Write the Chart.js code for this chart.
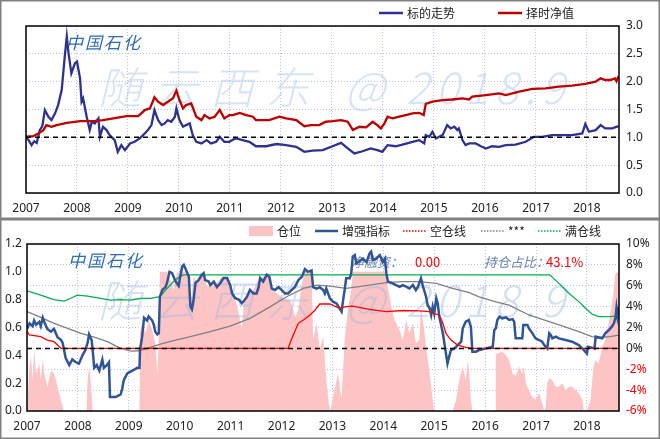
<!DOCTYPE html>
<html>
<head>
<meta charset="utf-8">
<script src="https://cdn.jsdelivr.net/npm/chart.js@4.4.1/dist/chart.umd.min.js"></script>
<style>
  html, body { margin: 0; padding: 0; background: #fff; }
  #wrap { position: relative; width: 660px; height: 439px; overflow: hidden; }
  canvas { position: absolute; left: 0; }
  #c1 { top: 0; }
  #c2 { top: 219px; }
</style>
</head>
<body>
<div id="wrap">
  <canvas id="c1" width="660" height="219"></canvas>
  <canvas id="c2" width="660" height="220"></canvas>
</div>
<script>
// x range (years)
const xStart = 2007, xEnd = 2018.63;

const topLegend = ['标的走势', '择时净值'];
const bottomLegend = ['仓位', '增强指标', '空仓线', '***', '满仓线'];
const stockName = '中国石化';
const markParts = ['随云西东', '@', '2018.9'];

// top panel: underlying trend
const trendPts = [[2007.00,1.01],[2007.05,0.95],[2007.11,0.86],[2007.16,0.93],[2007.21,0.90],[2007.27,1.13],[2007.32,1.20],[2007.37,1.49],[2007.44,1.37],[2007.50,1.31],[2007.57,1.43],[2007.63,1.58],[2007.70,1.85],[2007.76,2.45],[2007.80,2.81],[2007.83,2.54],[2007.89,2.15],[2007.96,2.33],[2008.00,2.36],[2008.06,2.06],[2008.09,1.64],[2008.12,1.70],[2008.19,1.37],[2008.25,1.13],[2008.29,1.28],[2008.35,1.25],[2008.42,1.34],[2008.45,1.01],[2008.51,1.19],[2008.58,1.13],[2008.64,1.04],[2008.74,0.95],[2008.80,0.74],[2008.87,0.86],[2008.94,0.77],[2009.04,0.89],[2009.13,0.92],[2009.23,0.98],[2009.33,1.07],[2009.39,1.13],[2009.46,1.22],[2009.52,1.49],[2009.59,1.31],[2009.66,1.22],[2009.72,1.25],[2009.78,1.31],[2009.85,1.28],[2009.92,1.37],[2009.95,1.52],[2010.01,1.31],[2010.08,1.19],[2010.14,1.22],[2010.21,1.25],[2010.27,1.04],[2010.34,0.92],[2010.44,0.89],[2010.54,0.95],[2010.63,0.89],[2010.73,0.92],[2010.80,1.01],[2010.89,0.92],[2010.99,0.92],[2011.06,0.96],[2011.12,0.98],[2011.25,0.95],[2011.38,0.92],[2011.51,0.84],[2011.71,0.84],[2011.91,0.88],[2012.10,0.86],[2012.30,0.83],[2012.46,0.74],[2012.62,0.76],[2012.82,0.77],[2013.01,0.84],[2013.18,0.90],[2013.31,0.80],[2013.44,0.71],[2013.60,0.75],[2013.76,0.80],[2013.89,0.77],[2013.99,0.74],[2014.09,0.86],[2014.25,0.84],[2014.42,0.88],[2014.58,0.92],[2014.71,0.95],[2014.81,0.89],[2014.84,1.04],[2014.91,1.01],[2014.97,1.10],[2015.04,0.98],[2015.10,1.01],[2015.17,1.04],[2015.26,1.22],[2015.33,1.16],[2015.40,1.19],[2015.46,1.13],[2015.49,1.16],[2015.56,0.95],[2015.62,0.86],[2015.69,0.89],[2015.82,0.89],[2015.92,0.84],[2016.02,0.80],[2016.14,0.84],[2016.28,0.83],[2016.41,0.86],[2016.60,0.87],[2016.80,0.92],[2016.96,1.01],[2017.12,1.01],[2017.32,1.04],[2017.51,1.04],[2017.71,1.04],[2017.91,1.07],[2017.97,1.24],[2018.04,1.10],[2018.17,1.13],[2018.27,1.22],[2018.36,1.16],[2018.50,1.16],[2018.62,1.20]];

// top panel: timing net value
const navPts = [[2007.00,1.01],[2007.14,1.02],[2007.24,1.07],[2007.34,1.13],[2007.40,1.22],[2007.50,1.19],[2007.60,1.22],[2007.80,1.26],[2008.06,1.29],[2008.32,1.29],[2008.51,1.31],[2008.77,1.35],[2008.97,1.38],[2009.20,1.38],[2009.26,1.43],[2009.33,1.49],[2009.43,1.52],[2009.52,1.72],[2009.59,1.64],[2009.69,1.58],[2009.78,1.64],[2009.88,1.70],[2009.95,1.84],[2010.01,1.67],[2010.08,1.52],[2010.14,1.58],[2010.24,1.61],[2010.34,1.37],[2010.44,1.31],[2010.50,1.40],[2010.60,1.34],[2010.70,1.37],[2010.80,1.49],[2010.89,1.34],[2010.99,1.40],[2011.06,1.40],[2011.19,1.44],[2011.32,1.40],[2011.45,1.37],[2011.51,1.31],[2011.77,1.31],[2011.97,1.37],[2012.10,1.34],[2012.30,1.31],[2012.46,1.20],[2012.59,1.22],[2012.75,1.22],[2012.88,1.28],[2013.01,1.29],[2013.18,1.31],[2013.31,1.28],[2013.41,1.13],[2013.54,1.19],[2013.67,1.18],[2013.80,1.28],[2013.89,1.22],[2013.96,1.16],[2014.03,1.25],[2014.09,1.37],[2014.19,1.34],[2014.32,1.37],[2014.45,1.40],[2014.58,1.43],[2014.71,1.44],[2014.80,1.40],[2014.84,1.60],[2014.97,1.64],[2015.17,1.67],[2015.36,1.68],[2015.56,1.70],[2015.69,1.68],[2015.75,1.73],[2016.02,1.76],[2016.28,1.79],[2016.41,1.76],[2016.67,1.82],[2016.93,1.87],[2017.19,1.88],[2017.45,1.91],[2017.71,1.93],[2017.97,1.96],[2018.17,2.00],[2018.27,2.06],[2018.36,2.03],[2018.46,2.03],[2018.55,2.06],[2018.58,2.01],[2018.62,2.10]];

// bottom panel: position (0..1)
const posPts = [[2007.00,0],[2007.05,0.32],[2007.08,0.39],[2007.11,0.22],[2007.14,0.44],[2007.18,0.27],[2007.24,0.34],[2007.27,0.22],[2007.31,0.37],[2007.34,0.27],[2007.40,0.17],[2007.47,0.29],[2007.53,0.27],[2007.57,0.22],[2007.63,0.13],[2007.70,0.03],[2007.72,0],[2008.17,0],[2008.19,0.22],[2008.22,0.32],[2008.25,0.22],[2008.29,0],[2009.21,0],[2009.22,0.56],[2009.26,0.63],[2009.33,0.56],[2009.39,0.65],[2009.46,0.58],[2009.52,0.49],[2009.56,0.27],[2009.59,0.51],[2009.61,1.0],[2009.75,1.0],[2009.82,0.94],[2009.88,0.87],[2009.95,1.0],[2010.01,0.99],[2010.03,0.93],[2010.05,1.0],[2010.18,0.99],[2010.21,0.71],[2010.27,0.965],[2010.34,0.92],[2010.41,1.0],[2010.47,0.965],[2010.54,0.89],[2010.63,0.92],[2010.73,0.92],[2010.83,0.965],[2010.93,0.95],[2011.03,0.845],[2011.12,0.77],[2011.22,0.594],[2011.26,0.77],[2011.35,0.83],[2011.45,0.87],[2011.55,0.95],[2011.64,0.965],[2011.74,0.977],[2011.81,0.869],[2011.91,0.845],[2012.04,0.81],[2012.17,0.797],[2012.27,0.678],[2012.33,0.726],[2012.40,0.917],[2012.46,1.0],[2012.59,1.0],[2012.62,0.51],[2012.69,0.63],[2012.75,0.44],[2012.82,0.534],[2012.88,0.22],[2012.93,0.05],[2012.96,0],[2013.01,0.1],[2013.11,0.27],[2013.18,0.08],[2013.24,0.51],[2013.31,0.75],[2013.37,0.87],[2013.40,1.0],[2014.06,1.0],[2014.09,0.89],[2014.16,0.75],[2014.22,0.654],[2014.32,0.58],[2014.38,0.51],[2014.45,0.654],[2014.51,0.558],[2014.58,0.63],[2014.64,0.486],[2014.71,0.51],[2014.74,0.75],[2014.81,0.558],[2014.84,0.462],[2014.91,0.27],[2014.97,0.08],[2015.00,0],[2015.36,0],[2015.43,0.08],[2015.49,0.22],[2015.56,0.32],[2015.62,0.22],[2015.66,0.366],[2015.69,0.27],[2015.72,0.08],[2015.75,0],[2016.20,0],[2016.21,0.41],[2016.34,0.426],[2016.41,0.40],[2016.47,0.366],[2016.54,0.27],[2016.60,0.25],[2016.67,0.32],[2016.73,0.27],[2016.76,0.32],[2016.80,0.2],[2016.86,0.15],[2016.93,0.10],[2016.99,0.08],[2017.06,0.13],[2017.12,0.06],[2017.16,0],[2017.19,0.03],[2017.22,0.2],[2017.26,0.235],[2017.32,0.22],[2017.39,0.175],[2017.45,0.175],[2017.52,0.2],[2017.58,0.15],[2017.65,0.175],[2017.71,0.175],[2017.78,0.15],[2017.84,0.13],[2017.91,0.08],[2017.94,0],[2018.00,0],[2018.07,0.08],[2018.13,0.32],[2018.17,0.366],[2018.23,0.34],[2018.30,0.462],[2018.36,0.51],[2018.43,0.63],[2018.49,0.77],[2018.52,0.85],[2018.56,0.99],[2018.63,1.0]];

// bottom panel: enhanced indicator
const indexPts = [[2007.00,0.59],[2007.05,0.63],[2007.11,0.61],[2007.14,0.65],[2007.18,0.62],[2007.24,0.64],[2007.27,0.61],[2007.31,0.67],[2007.34,0.64],[2007.40,0.59],[2007.47,0.57],[2007.53,0.59],[2007.60,0.53],[2007.67,0.51],[2007.70,0.49],[2007.76,0.38],[2007.83,0.33],[2007.89,0.37],[2007.96,0.35],[2008.02,0.34],[2008.09,0.40],[2008.15,0.44],[2008.19,0.49],[2008.22,0.55],[2008.27,0.51],[2008.29,0.44],[2008.32,0.31],[2008.37,0.33],[2008.42,0.29],[2008.48,0.37],[2008.51,0.31],[2008.57,0.33],[2008.61,0.35],[2008.63,0.10],[2008.74,0.10],[2008.84,0.12],[2008.87,0.16],[2008.90,0.22],[2008.97,0.27],[2009.07,0.29],[2009.17,0.31],[2009.21,0.31],[2009.22,0.44],[2009.26,0.53],[2009.30,0.67],[2009.36,0.65],[2009.39,0.68],[2009.46,0.65],[2009.49,0.62],[2009.52,0.57],[2009.56,0.55],[2009.59,0.56],[2009.61,0.82],[2009.66,0.87],[2009.72,0.89],[2009.75,0.92],[2009.80,1.00],[2009.85,0.99],[2009.88,0.965],[2009.92,0.93],[2009.98,0.90],[2010.01,0.965],[2010.05,1.04],[2010.08,1.05],[2010.11,1.025],[2010.18,0.965],[2010.21,0.75],[2010.24,0.73],[2010.27,0.79],[2010.31,0.92],[2010.37,0.94],[2010.44,0.98],[2010.47,0.99],[2010.50,0.94],[2010.57,0.93],[2010.60,0.905],[2010.67,0.93],[2010.73,0.89],[2010.80,0.92],[2010.86,0.955],[2010.93,0.955],[2010.99,0.905],[2011.03,0.845],[2011.09,0.81],[2011.16,0.80],[2011.22,0.775],[2011.25,0.785],[2011.32,0.82],[2011.38,0.87],[2011.45,0.845],[2011.51,0.845],[2011.55,0.89],[2011.58,0.955],[2011.64,0.93],[2011.71,0.98],[2011.76,0.965],[2011.81,0.88],[2011.87,0.87],[2011.94,0.89],[2012.00,0.87],[2012.07,0.845],[2012.13,0.845],[2012.20,0.87],[2012.26,0.89],[2012.33,0.94],[2012.40,0.965],[2012.46,1.02],[2012.52,1.00],[2012.59,1.01],[2012.62,0.89],[2012.69,0.88],[2012.75,0.89],[2012.82,0.87],[2012.85,0.845],[2012.88,0.88],[2012.95,0.81],[2013.01,0.786],[2013.08,0.773],[2013.14,0.738],[2013.18,0.714],[2013.21,0.797],[2013.24,0.869],[2013.27,0.953],[2013.34,0.953],[2013.37,0.99],[2013.40,1.11],[2013.44,1.12],[2013.47,1.06],[2013.54,1.08],[2013.60,1.095],[2013.67,1.07],[2013.73,1.133],[2013.76,1.145],[2013.80,1.085],[2013.86,1.095],[2013.93,1.12],[2013.99,1.07],[2014.03,1.095],[2014.06,0.99],[2014.09,0.93],[2014.16,0.92],[2014.25,0.905],[2014.32,0.893],[2014.38,0.905],[2014.45,0.893],[2014.51,0.88],[2014.58,0.905],[2014.64,0.869],[2014.68,0.893],[2014.74,0.953],[2014.78,0.893],[2014.84,0.821],[2014.87,0.762],[2014.91,0.738],[2014.94,0.69],[2014.97,0.75],[2015.00,0.70],[2015.04,0.81],[2015.07,0.77],[2015.10,0.678],[2015.17,0.558],[2015.20,0.486],[2015.23,0.414],[2015.26,0.342],[2015.30,0.40],[2015.33,0.438],[2015.40,0.45],[2015.46,0.474],[2015.53,0.498],[2015.56,0.594],[2015.62,0.642],[2015.68,0.654],[2015.72,0.606],[2015.75,0.426],[2015.82,0.426],[2015.88,0.438],[2016.02,0.45],[2016.15,0.462],[2016.18,0.582],[2016.21,0.594],[2016.24,0.654],[2016.28,0.678],[2016.34,0.666],[2016.41,0.673],[2016.47,0.654],[2016.54,0.66],[2016.57,0.642],[2016.60,0.522],[2016.73,0.522],[2016.75,0.618],[2016.83,0.618],[2016.86,0.594],[2016.93,0.558],[2016.99,0.522],[2017.06,0.51],[2017.12,0.498],[2017.16,0.474],[2017.19,0.462],[2017.22,0.45],[2017.26,0.558],[2017.29,0.546],[2017.32,0.522],[2017.39,0.534],[2017.45,0.522],[2017.58,0.51],[2017.71,0.498],[2017.84,0.474],[2017.94,0.438],[2018.00,0.414],[2018.02,0.462],[2018.15,0.45],[2018.17,0.534],[2018.30,0.522],[2018.36,0.558],[2018.43,0.582],[2018.49,0.606],[2018.53,0.63],[2018.56,0.67],[2018.58,0.74],[2018.60,0.68],[2018.63,0.75]];

// bottom panel: empty-position line
const emptyPts = [[2007.00,0.575],[2007.05,0.546],[2007.27,0.534],[2007.40,0.51],[2007.53,0.498],[2007.67,0.45],[2012.13,0.45],[2012.20,0.52],[2012.33,0.63],[2012.43,0.654],[2012.56,0.69],[2012.66,0.726],[2012.75,0.769],[2012.95,0.769],[2013.14,0.738],[2013.27,0.75],[2013.40,0.754],[2013.73,0.73],[2014.06,0.714],[2014.38,0.722],[2014.71,0.72],[2014.91,0.714],[2015.00,0.70],[2015.10,0.69],[2015.17,0.63],[2015.23,0.558],[2015.33,0.51],[2015.46,0.474],[2015.62,0.457],[2015.75,0.45],[2018.63,0.45]];

// bottom panel: *** line
const midPts = [[2007.00,0.714],[2007.27,0.673],[2007.53,0.63],[2007.80,0.594],[2008.06,0.558],[2008.32,0.53],[2008.58,0.498],[2008.84,0.45],[2009.04,0.43],[2009.20,0.433],[2009.36,0.45],[2009.62,0.481],[2009.88,0.505],[2010.21,0.534],[2010.60,0.57],[2010.99,0.61],[2011.38,0.666],[2011.78,0.75],[2012.10,0.821],[2012.43,0.881],[2012.69,0.905],[2012.95,0.898],[2013.27,0.881],[2013.73,0.905],[2014.06,0.922],[2014.38,0.929],[2014.71,0.929],[2015.04,0.917],[2015.36,0.881],[2015.69,0.85],[2015.88,0.82],[2016.21,0.785],[2016.47,0.76],[2016.86,0.69],[2017.20,0.65],[2017.51,0.612],[2017.84,0.57],[2018.10,0.535],[2018.30,0.53],[2018.45,0.535],[2018.63,0.545]];

// bottom panel: full-position line
const fullPts = [[2007.00,0.864],[2007.27,0.833],[2007.53,0.80],[2007.73,0.79],[2007.86,0.81],[2007.99,0.833],[2008.19,0.826],[2008.45,0.81],[2008.64,0.797],[2008.84,0.80],[2009.04,0.797],[2009.23,0.81],[2009.43,0.81],[2009.61,0.821],[2009.75,0.88],[2009.88,0.93],[2009.98,0.96],[2010.07,0.978],[2017.27,0.978],[2017.45,0.917],[2017.65,0.845],[2017.84,0.786],[2017.97,0.738],[2018.10,0.697],[2018.23,0.678],[2018.43,0.678],[2018.60,0.682],[2018.63,0.70]];

const topBase = [[xStart,1.0],[xEnd,1.0]];
const bottomBase = [[xStart,0],[xEnd,0]];

const CJK = '"Noto Sans CJK SC", "Noto Sans", sans-serif';
const gridColor = 'rgba(160,168,232,0.75)';
const tickFont = { family: '"Noto Sans", sans-serif', size: 12 };

function pts(arr) {
  return arr.map(function (p) { return { x: p[0], y: p[1] }; });
}

function drawMark(ctx, y, color) {
  var xs = [98, 345, 406];
  var sp = ['12px', '0px', '6px'];
  ctx.save();
  ctx.font = 'italic 300 44px ' + CJK;
  ctx.fillStyle = color;
  ctx.textBaseline = 'middle';
  markParts.forEach(function (t, i) {
    ctx.letterSpacing = sp[i];
    ctx.fillText(t, xs[i], y);
  });
  ctx.restore();
}

function drawName(ctx, x, y) {
  ctx.save();
  ctx.font = 'italic 17px ' + CJK;
  ctx.letterSpacing = '2px';
  ctx.fillStyle = '#2e6db4';
  ctx.textBaseline = 'middle';
  ctx.fillText(stockName, x, y);
  ctx.restore();
}

// legend item: kind = line | dot | box
function legendItem(ctx, kind, x, y, color, text, w) {
  ctx.save();
  if (kind === 'box') {
    ctx.fillStyle = color;
    ctx.fillRect(x, y - 5, w, 10);
  } else {
    ctx.strokeStyle = color;
    ctx.lineWidth = kind === 'line' ? 2.5 : 1.5;
    ctx.setLineDash(kind === 'dot' ? [1.5, 1.5] : []);
    ctx.beginPath();
    ctx.moveTo(x, y);
    ctx.lineTo(x + w, y);
    ctx.stroke();
  }
  ctx.setLineDash([]);
  ctx.font = '12px ' + CJK;
  ctx.fillStyle = '#222';
  ctx.textBaseline = 'middle';
  ctx.fillText(text, x + w + 4, y);
  ctx.restore();
}

const decor = {
  id: 'decor',
  beforeDatasetsDraw: function (chart, args, opts) {
    if (opts.panel === 'top') {
      drawMark(chart.ctx, 87, 'rgba(165,198,236,0.45)');
      drawName(chart.ctx, 66, 43);
    }
  },
  afterDatasetDraw: function (chart, args, opts) {
    if (opts.panel === 'bottom' && args.index === 0) {
      drawMark(chart.ctx, 81, 'rgba(150,182,228,0.42)');
      drawName(chart.ctx, 68, 42);
      var ctx = chart.ctx;
      ctx.save();
      ctx.textBaseline = 'middle';
      ctx.font = 'italic 13px ' + CJK;
      ctx.fillStyle = '#6a86ab';
      ctx.fillText('净融资：', 351, 43);
      ctx.fillText('持仓占比：', 484, 43);
      ctx.font = '13px ' + CJK;
      ctx.fillStyle = '#ff0000';
      ctx.fillText('0.00', 415, 43);
      ctx.fillText('43.1%', 546, 43);
      ctx.restore();
    }
  },
  afterDraw: function (chart, args, opts) {
    var ctx = chart.ctx, a = chart.chartArea;
    ctx.save();
    ctx.strokeStyle = '#000';
    ctx.lineWidth = 1.5;
    ctx.strokeRect(a.left, a.top, a.right - a.left, a.bottom - a.top);
    ctx.strokeStyle = '#808080';
    ctx.lineWidth = 1.5;
    ctx.strokeRect(0.75, 0.75, chart.width - 1.5, chart.height - 1.5);
    ctx.restore();
    if (opts.panel === 'top') {
      legendItem(ctx, 'line', 379, 13, '#2e3192', topLegend[0], 24);
      legendItem(ctx, 'line', 498, 13, '#c00000', topLegend[1], 24);
    } else {
      legendItem(ctx, 'box', 249, 12, '#fcc4c4', bottomLegend[0], 24);
      legendItem(ctx, 'line', 315, 12, '#2f5597', bottomLegend[1], 23);
      legendItem(ctx, 'dot', 403, 12, '#ff0000', bottomLegend[2], 23);
      legendItem(ctx, 'dot', 481, 12, '#808080', bottomLegend[3], 23);
      legendItem(ctx, 'dot', 538, 12, '#00b050', bottomLegend[4], 23);
    }
  }
};

function xAxis(h) {
  return {
    type: 'linear', min: xStart, max: xEnd,
    afterFit: function (s) { s.height = h; },
    grid: { color: gridColor, drawTicks: false },
    border: { display: false, dash: [1, 2] },
    ticks: {
      stepSize: 1, includeBounds: false, autoSkip: false, maxRotation: 0,
      padding: 8, color: '#222', font: tickFont,
      callback: function (v) { return String(Math.round(v)); }
    }
  };
}

new Chart(document.getElementById('c1'), {
  type: 'line',
  data: {
    datasets: [
      { label: 'base', data: pts(topBase), borderColor: '#000', borderWidth: 1.5, borderDash: [5, 4], pointRadius: 0, order: 0 },
      { label: topLegend[1], data: pts(navPts), borderColor: '#c00000', borderWidth: 2.3, pointRadius: 0, order: 1 },
      { label: topLegend[0], data: pts(trendPts), borderColor: '#2e3192', borderWidth: 2.3, pointRadius: 0, order: 2 }
    ]
  },
  options: {
    responsive: false, animation: false, events: [],
    layout: { padding: { left: 26, top: 26, right: 0, bottom: 0 } },
    plugins: { legend: { display: false }, tooltip: { enabled: false }, decor: { panel: 'top' } },
    scales: {
      x: xAxis(26),
      y: {
        position: 'right', min: 0, max: 3,
        afterFit: function (s) { s.width = 41; },
        grid: { color: gridColor, drawTicks: false },
        border: { display: false, dash: [1, 2] },
        ticks: { stepSize: 0.5, padding: 7, color: '#222', font: tickFont,
          callback: function (v) { return v.toFixed(1); } }
      }
    }
  },
  plugins: [decor]
});

new Chart(document.getElementById('c2'), {
  type: 'line',
  data: {
    datasets: [
      { label: bottomLegend[0], data: pts(posPts), yAxisID: 'y', borderWidth: 0, borderColor: 'rgba(0,0,0,0)',
        backgroundColor: '#fcc4c4', fill: 'origin', pointRadius: 0, order: 10 },
      { label: bottomLegend[2], data: pts(emptyPts), yAxisID: 'y', borderColor: '#ff0000', borderWidth: 1.3, pointRadius: 0, order: 1 },
      { label: 'base', data: pts(bottomBase), yAxisID: 'yR', borderColor: '#000', borderWidth: 1.5, borderDash: [5, 4], pointRadius: 0, order: 0 },
      { label: bottomLegend[1], data: pts(indexPts), yAxisID: 'y', borderColor: '#2f5597', borderWidth: 2.5, pointRadius: 0, order: 2 },
      { label: bottomLegend[3], data: pts(midPts), yAxisID: 'y', borderColor: '#808080', borderWidth: 1.3, pointRadius: 0, order: 3 },
      { label: bottomLegend[4], data: pts(fullPts), yAxisID: 'y', borderColor: '#00b050', borderWidth: 1.3, pointRadius: 0, order: 4 }
    ]
  },
  options: {
    responsive: false, animation: false, events: [],
    layout: { padding: { left: 5, top: 25, right: 0, bottom: 0 } },
    plugins: { legend: { display: false }, tooltip: { enabled: false }, decor: { panel: 'bottom' } },
    scales: {
      x: xAxis(28),
      y: {
        position: 'left', min: 0, max: 1.2,
        afterFit: function (s) { s.width = 22; },
        grid: { display: false },
        border: { display: false },
        ticks: { stepSize: 0.2, padding: 4, crossAlign: 'far', color: '#222', font: tickFont,
          callback: function (v) { return v.toFixed(1); } }
      },
      yR: {
        position: 'right', min: -6, max: 10,
        afterFit: function (s) { s.width = 41; },
        grid: { color: gridColor, drawTicks: false },
        border: { display: false, dash: [1, 2] },
        ticks: { stepSize: 2, padding: 7, font: tickFont,
          color: function (c) { return c.tick && c.tick.value < 0 ? '#ff0000' : '#222'; },
          callback: function (v) { return v + '%'; } }
      }
    }
  },
  plugins: [decor]
});
</script>
</body>
</html>
